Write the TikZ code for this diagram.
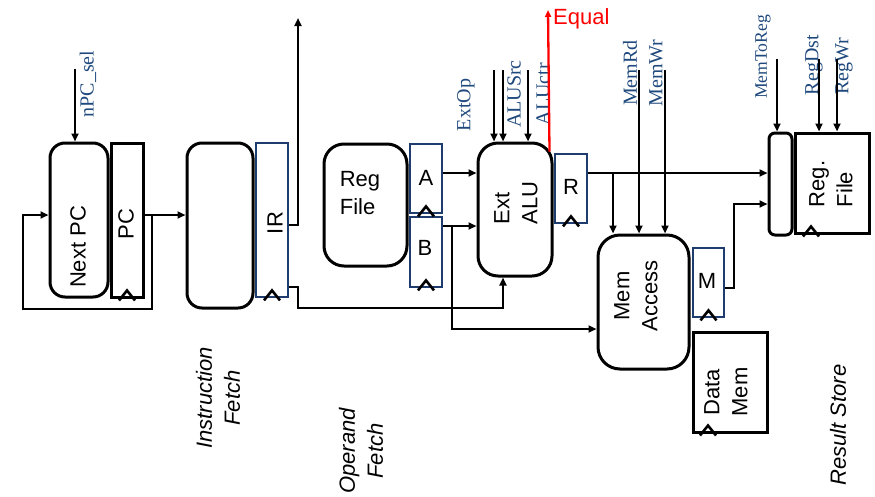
\documentclass[tikz,border=0pt]{standalone}
\usepackage{fontspec}
\setmainfont{Liberation Sans}
\newfontfamily\serifl{Liberation Serif}
\usetikzlibrary{arrows.meta,calc}
\definecolor{lblue}{RGB}{31,73,125}
\definecolor{rblue}{RGB}{31,60,110}
\definecolor{eqred}{RGB}{255,0,0}
\begin{document}
\begin{tikzpicture}[x=1pt,y=-1pt,
  blk/.style={draw=black, line width=3pt, inner sep=0pt},
  reg/.style={draw=rblue, line width=2.8pt, inner sep=0pt, minimum width=32pt},
  wire/.style={line width=2.3pt, draw=black},
  arr/.style={wire, -{Triangle[length=8pt,width=7pt]}},
  ctl/.style={font=\serifl\fontsize{20}{22}\selectfont, text=lblue, rotate=90, inner sep=0pt},
  lbl/.style={font=\fontsize{22}{28}\selectfont, inner sep=0pt},
  rlbl/.style={lbl, rotate=90},
  stage/.style={font=\itshape\fontsize{22}{28}\selectfont, rotate=90, align=center, inner sep=0pt},
  clk/.style={line width=2.6pt, draw=black}
]
\useasboundingbox (0,0) rectangle (875,496);

% ---------- boxes ----------
\node[blk, rounded corners=15pt, minimum width=58pt, minimum height=154pt] (nextpc) at (79,220) {};
\node[blk, minimum width=32pt, minimum height=154pt] (pc) at (127,220) {};
\node[blk, rounded corners=15pt, minimum width=66pt, minimum height=165pt] (imem) at (220,225.5) {};
\node[reg, minimum height=154pt] (ir) at (272,220) {};
\node[blk, rounded corners=20pt, minimum width=83pt, minimum height=122pt] (regfile) at (365.5,205) {};
\node[reg, minimum height=69pt] (A) at (426,178.5) {};
\node[reg, minimum height=70pt] (B) at (426,252) {};
\node[blk, rounded corners=20pt, minimum width=74pt, minimum height=133pt] (alu) at (515,209.5) {};
\node[reg, minimum height=69pt] (R) at (571,188.5) {};
\node[blk, rounded corners=22pt, minimum width=91pt, minimum height=134pt] (memacc) at (643.5,302) {};
\node[reg, minimum width=31pt, minimum height=69pt] (M) at (708.5,282.5) {};
\node[blk, minimum width=74pt, minimum height=100pt] (datamem) at (730,382) {};
\node[blk, rounded corners=6pt, minimum width=23pt, minimum height=102pt] (mux) at (780.5,184) {};
\node[blk, minimum width=74pt, minimum height=100pt] (rf) at (832,183) {};

% ---------- clock marks ----------
\coordinate (rfclk) at ($(rf.south)+(-21,0)$);
\coordinate (dmclk) at ($(datamem.south)+(-22,0)$);
\foreach \c in {pc.south, ir.south, A.south, B.south, R.south, M.south, rfclk, dmclk}
  \draw[clk] ($(\c)+(-8,2)$) -- ($(\c)+(0,-8)$) -- ($(\c)+(8,2)$);

% ---------- box texts ----------
\node[rlbl] (tnext) at (78,247) {Next PC};
\node[rlbl] (tpc) at (126,224) {PC};
\node[rlbl] (tir) at (275,223) {IR};
\node[lbl, align=left] (treg) at (360,193) {Reg\\File};
\node[lbl] (tA) at (426,178) {A};
\node[lbl] (tB) at (425,248) {B};
\node[rlbl, align=left] (talu) at (516,203) {Ext\\ALU};
\node[lbl] (tR) at (571,187) {R};
\node[rlbl, align=center] (tmem) at (636,296) {Mem\\Access};
\node[lbl] (tM) at (707,281) {M};
\node[rlbl, align=center] (tdm) at (726,392) {Data\\Mem};
\node[rlbl, align=left] (trf) at (831,184) {Reg.\\File};

% ---------- stage labels ----------
\node[stage] (sif) at (218,398) {Instruction\\Fetch};
\node[stage] (sof) at (361,451) {Operand\\Fetch};
\node[stage] (srs) at (838,425) {Result Store};

% ---------- control labels ----------
\node[ctl] (lnpc) at (88,84) {nPC\_sel};
\node[ctl] (lext) at (466,105) {ExtOp};
\node[ctl] (lsrc) at (514,94) {ALUSrc};
\node[ctl] (lctr) at (543,94) {ALUctr};
\node[ctl] (lmrd) at (630,73) {MemRd};
\node[ctl] (lmwr) at (656,73) {MemWr};
\node[ctl, font=\serifl\fontsize{17.6}{20}\selectfont] (lm2r) at (763,57) {MemToReg};
\node[ctl] (ldst) at (814,65) {RegDst};
\node[ctl] (lrwr) at (844,66) {RegWr};

% ---------- coordinates ----------
\coordinate (ypc) at (0,215);
\coordinate (fbj) at (152,215);
\coordinate (fbl) at (23,309);
\coordinate (npcin) at (75,69);
\coordinate (yir) at (0,225);
\coordinate (irtop) at (298,18);
\coordinate (yirb) at (0,287);
\coordinate (irb) at (298,308);
\coordinate (aluB) at (503,0);
\coordinate (yA) at (0,173);
\coordinate (yB) at (0,226);
\coordinate (bj) at (452,226);
\coordinate (ym) at (0,329);
\coordinate (c1) at (494,70);
\coordinate (c2) at (503,70);
\coordinate (c3) at (528,70);
\coordinate (eqs) at ($(alu.north east)+(-4,10)$);
\coordinate (eqe) at (548,10);
\coordinate (yR) at (0,173);
\coordinate (rj) at (613,173);
\coordinate (m1) at (639,70);
\coordinate (m2) at (665,70);
\coordinate (yM) at (0,288);
\coordinate (mj) at (734,204);
\coordinate (w1) at (777,59);
\coordinate (w2) at (819,59);
\coordinate (w3) at (837,59);

% ---------- connectors ----------
\draw[arr] (npcin) -- (npcin |- nextpc.north);
\draw[arr] (pc.east |- ypc) -- (imem.west |- ypc);
\draw[arr] (fbj) |- (fbl) |- (nextpc.west |- ypc);
\draw[arr] (ir.east |- yir) -| (irtop);
\draw[arr] (ir.east |- yirb) -| (irb) -| (aluB |- alu.south);
\draw[arr] (A.east |- yA) -- (alu.west |- yA);
\draw[arr] (B.east |- yB) -- (alu.west |- yB);
\draw[arr] (bj) |- (memacc.west |- ym);
\draw[arr] (c1) -- (c1 |- alu.north);
\draw[arr] (c2) -- (c2 |- alu.north);
\draw[arr] (c3) -- (c3 |- alu.north);
\draw[arr, draw=eqred, -{Triangle[length=7pt,width=6pt]}] (eqs) -- (eqe);
\node[lbl, text=eqred, anchor=west] (equal) at (553,19) {Equal};
\draw[arr] (R.east |- yR) -- (mux.west |- yR);
\draw[arr] (rj) -- (rj |- memacc.north);
\draw[arr] (m1) -- (m1 |- memacc.north);
\draw[arr] (m2) -- (m2 |- memacc.north);
\draw[arr] (M.east |- yM) -| (mj) -- (mux.west |- mj);
\draw[arr] (w1) -- (w1 |- mux.north);
\draw[arr] (w2) -- (w2 |- rf.north);
\draw[arr] (w3) -- (w3 |- rf.north);
\end{tikzpicture}
\end{document}
